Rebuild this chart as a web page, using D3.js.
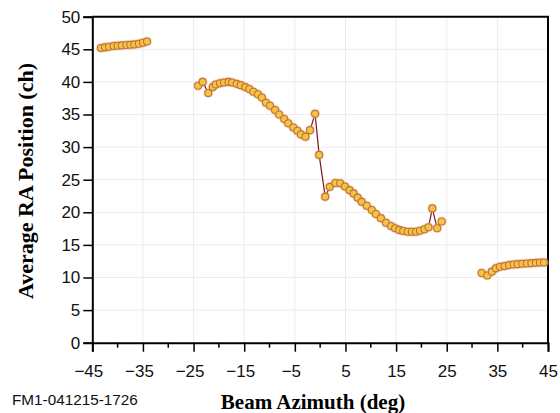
<!DOCTYPE html>
<html>
<head>
<meta charset="utf-8">
<script src="https://d3js.org/d3.v7.min.js"></script>
<style>
  body { margin: 0; background: #fff; }
  svg { display: block; }
</style>
</head>
<body>
<div id="chart"></div>
<script>
// azimuth (deg) and RA position (ch), one array pair per scan segment
var seg1Az = [-43.3, -42.5, -41.7, -40.8, -40.0, -39.2, -38.3, -37.5, -36.7, -35.8, -35.0, -34.2]
var seg1Pos = [45.2, 45.3, 45.4, 45.5, 45.55, 45.6, 45.65, 45.7, 45.75, 45.85, 46.0, 46.2]

var seg2Az = [-24.1, -23.2, -22.1, -21.2, -20.6, -19.8, -19.0, -18.1, -17.4, -16.5, -15.7, -14.8,
  -14.0, -13.2, -12.3, -11.5, -10.7, -9.9, -8.9, -8.1, -7.1, -6.3, -5.3, -4.5, -3.8, -2.9,
  -2.0, -1.0, -0.2, 1.0, 1.9, 3.0, 3.95, 4.9, 5.8, 6.6, 7.4, 8.2, 9.2, 10.2, 11.0, 12.0,
  13.0, 14.0, 14.8, 15.6, 16.4, 17.3, 18.1, 18.9, 19.7, 20.6, 21.4, 22.15, 23.1, 24.0]
var seg2Pos = [39.4, 40.0, 38.3, 39.2, 39.6, 39.8, 39.9, 40.0, 39.9, 39.7, 39.5, 39.2,
  38.9, 38.5, 38.1, 37.6, 36.8, 36.35, 35.7, 35.0, 34.3, 33.65, 33.0, 32.5, 31.95, 31.6,
  32.6, 35.1, 28.8, 22.4, 23.9, 24.5, 24.45, 23.95, 23.4, 22.9, 22.25, 21.6, 21.0, 20.35, 19.75, 19.1,
  18.4, 17.9, 17.55, 17.3, 17.13, 17.02, 17.02, 17.02, 17.18, 17.4, 17.7, 20.6, 17.55, 18.6]

var seg3Az = [31.9, 33.0, 33.9, 34.7, 35.5, 36.4, 37.3, 38.2, 39.0, 39.9, 40.8, 41.7, 42.6, 43.4, 44.2]
var seg3Pos = [10.7, 10.3, 10.9, 11.4, 11.65, 11.75, 11.9, 12.0, 12.05, 12.1, 12.15, 12.2, 12.25, 12.3, 12.3]

var xTicks = [-45, -35, -25, -15, -5, 5, 15, 25, 35, 45]
var xMinor = [-40, -30, -20, -10, 0, 10, 20, 30, 40]
var yTicks = [0, 5, 10, 15, 20, 25, 30, 35, 40, 45, 50]

var width = 560
var height = 413
var margin = { top: 16.7, right: 12, bottom: 70.3, left: 92.3 }

var segments = [[seg1Az, seg1Pos], [seg2Az, seg2Pos], [seg3Az, seg3Pos]].map(function (s) {
  return s[0].map(function (az, i) { return { az: az, pos: s[1][i] } })
})

var svg = d3.select('#chart').append('svg')
  .attr('width', width)
  .attr('height', height)

var x = d3.scaleLinear().domain([-45, 45]).range([margin.left, width - margin.right])
var y = d3.scaleLinear().domain([0, 50]).range([height - margin.bottom, margin.top])

// faint grid
svg.append('g')
  .selectAll('line')
  .data(xTicks.slice(1, -1))
  .enter().append('line')
  .attr('x1', function (d) { return x(d) })
  .attr('x2', function (d) { return x(d) })
  .attr('y1', y(50))
  .attr('y2', y(0))
  .attr('stroke', '#ececf0')
  .attr('stroke-width', 1)

svg.append('g')
  .selectAll('line')
  .data(yTicks.slice(1, -1))
  .enter().append('line')
  .attr('x1', x(-45))
  .attr('x2', x(45))
  .attr('y1', function (d) { return y(d) })
  .attr('y2', function (d) { return y(d) })
  .attr('stroke', '#ececf0')
  .attr('stroke-width', 1)

// frame top and right
svg.append('path')
  .attr('d', 'M' + x(-45) + ',' + y(50) + 'H' + x(45) + 'V' + y(0))
  .attr('fill', 'none')
  .attr('stroke', '#000')
  .attr('stroke-width', 2)

var xAxis = svg.append('g')
  .attr('transform', 'translate(0,' + y(0) + ')')
  .call(d3.axisBottom(x).tickValues(xTicks).tickSize(9).tickFormat(d3.format('d')))
xAxis.select('.domain').attr('stroke-width', 2)
xAxis.selectAll('.tick line').attr('stroke-width', 1.5)
xAxis.selectAll('.tick text')
  .attr('font-family', '"Liberation Sans", Arial, sans-serif')
  .attr('font-size', 17)
  .attr('fill', '#111')
  .attr('y', 22)
  .attr('dx', function (d) { return d < 0 ? -4 : 0 })

svg.append('g')
  .attr('transform', 'translate(0,' + y(0) + ')')
  .selectAll('line')
  .data(xMinor)
  .enter().append('line')
  .attr('x1', function (d) { return x(d) })
  .attr('x2', function (d) { return x(d) })
  .attr('y1', 0)
  .attr('y2', 5)
  .attr('stroke', '#000')
  .attr('stroke-width', 1.5)

var yAxis = svg.append('g')
  .attr('transform', 'translate(' + x(-45) + ',0)')
  .call(d3.axisLeft(y).tickValues(yTicks).tickSize(9))
yAxis.select('.domain').attr('stroke-width', 2)
yAxis.selectAll('.tick line').attr('stroke-width', 1.5)
yAxis.selectAll('.tick text')
  .attr('font-family', '"Liberation Sans", Arial, sans-serif')
  .attr('font-size', 17)
  .attr('fill', '#111')
  .attr('x', -12)

var line = d3.line()
  .x(function (d) { return x(d.az) })
  .y(function (d) { return y(d.pos) })

svg.append('g')
  .selectAll('path')
  .data(segments)
  .enter().append('path')
  .attr('d', line)
  .attr('fill', 'none')
  .attr('stroke', '#7a1420')
  .attr('stroke-width', 1.2)

var allPoints = [].concat.apply([], segments)

// soft halo then the marker itself
svg.append('g')
  .selectAll('circle')
  .data(allPoints)
  .enter().append('circle')
  .attr('cx', function (d) { return x(d.az) })
  .attr('cy', function (d) { return y(d.pos) })
  .attr('r', 5)
  .attr('fill', '#e8a878')
  .attr('opacity', 0.45)

svg.append('g')
  .selectAll('circle')
  .data(allPoints)
  .enter().append('circle')
  .attr('cx', function (d) { return x(d.az) })
  .attr('cy', function (d) { return y(d.pos) })
  .attr('r', 3.5)
  .attr('fill', '#f6c443')
  .attr('stroke', '#c0743a')
  .attr('stroke-width', 1.1)

svg.append('text')
  .attr('x', 313)
  .attr('y', 409)
  .attr('text-anchor', 'middle')
  .attr('font-family', '"Liberation Serif", "Times New Roman", serif')
  .attr('font-weight', 'bold')
  .attr('font-size', 21)
  .text('Beam Azimuth (deg)')

svg.append('text')
  .attr('transform', 'translate(33,181) rotate(-90)')
  .attr('text-anchor', 'middle')
  .attr('font-family', '"Liberation Serif", "Times New Roman", serif')
  .attr('font-weight', 'bold')
  .attr('font-size', 22)
  .text('Average RA Position (ch)')

svg.append('text')
  .attr('x', 12)
  .attr('y', 405)
  .attr('font-family', '"Liberation Sans", Arial, sans-serif')
  .attr('font-size', 15.3)
  .attr('fill', '#111')
  .text('FM1-041215-1726')
</script>
</body>
</html>
